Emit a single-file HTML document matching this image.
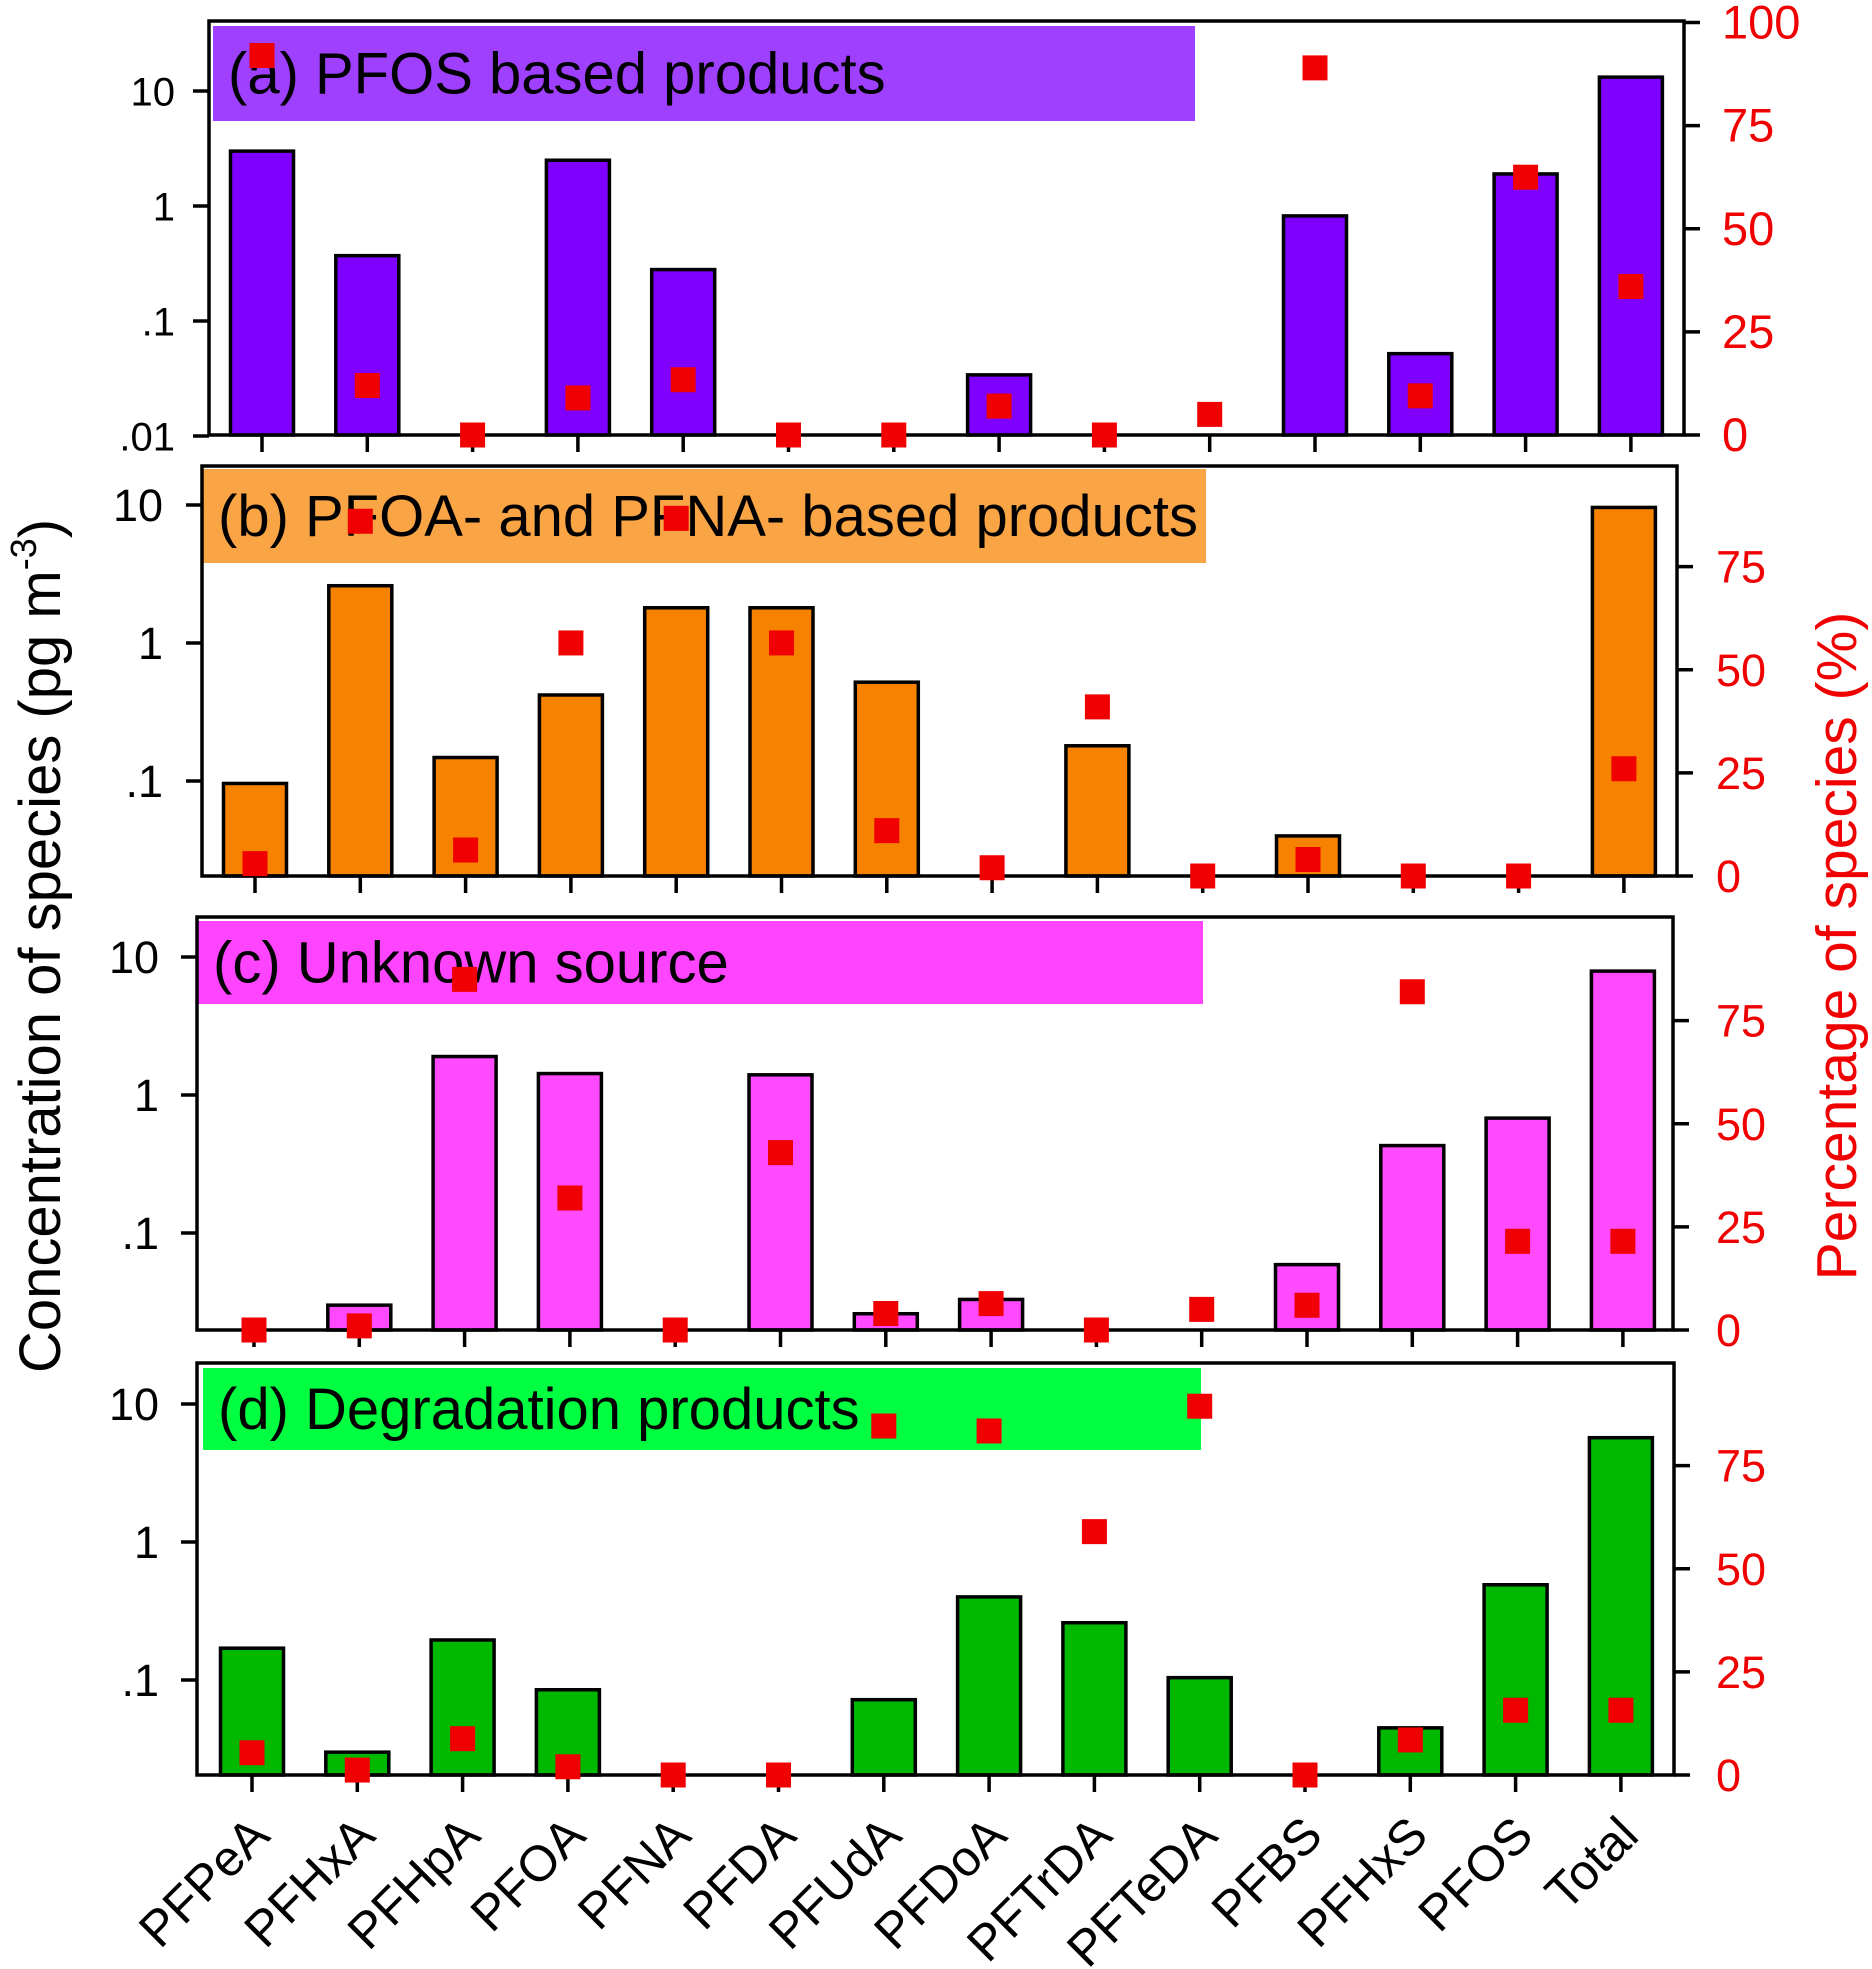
<!DOCTYPE html>
<html><head><meta charset="utf-8"><style>
html,body{margin:0;padding:0;background:#fff;}
svg{display:block;font-family:"Liberation Sans",Arial,sans-serif;}
</style></head><body>
<svg id="chart" width="1872" height="1969" viewBox="0 0 1872 1969" xmlns="http://www.w3.org/2000/svg"></svg>
<script>
const categories = ["PFPeA","PFHxA","PFHpA","PFOA","PFNA","PFDA","PFUdA","PFDoA","PFTrDA","PFTeDA","PFBS","PFHxS","PFOS","Total"];
const concA = [3.0,0.37,null,2.5,0.28,null,null,0.034,null,null,0.82,0.052,1.9,13.2];
const pctA  = [92,12,0,9,13.4,0,0,7,0,5,89,9.5,62.5,36];
const concB = [0.096,2.6,0.148,0.42,1.8,1.8,0.52,null,0.18,null,0.04,null,null,9.6];
const pctB  = [3,86,6.3,56.5,86.7,56.5,11,2,41,0,4,0,0,26];
const concC = [null,0.030,1.9,1.43,null,1.4,0.026,0.033,null,null,0.059,0.43,0.68,7.9];
const pctC  = [0,1,85,32,0,43,4,6.4,0,5,6,82,21.5,21.5];
const concD = [0.17,0.030,0.195,0.085,null,null,0.072,0.40,0.26,0.104,null,0.045,0.49,5.7];
const pctD  = [5.4,1.2,8.8,2,0,0,84.6,83.4,59,89.4,0,8.5,15.7,15.7];
const panelTitles = ["(a) PFOS based products","(b) PFOA- and PFNA- based products","(c) Unknown source","(d) Degradation products"];
const leftTicksA = [".01",".1","1","10"];
const leftTicksBCD = [".1","1","10"];
const rightTicksA = ["0","25","50","75","100"];
const rightTicksBCD = ["0","25","50","75"];

const NS="http://www.w3.org/2000/svg";
const svg=document.getElementById('chart');
function mk(tag,attrs,parent){const e=document.createElementNS(NS,tag);for(const k in attrs)e.setAttribute(k,attrs[k]);(parent||svg).appendChild(e);return e;}

const panels=[
 {conc:concA,pct:pctA,x0:209,x1:1684,y0:21,y1:435,y10:91,dec:115,tick0:262,bar:"#7F00FF",lab:"#A040FF",lb:[213,26,1195,121],lt:leftTicksA,rt:rightTicksA,labX:175,rX:1722,rFs:47,lFs:40,name:"a"},
 {conc:concB,pct:pctB,x0:202,x1:1677,y0:466,y1:876,y10:505,dec:138,tick0:255,bar:"#F78200",lab:"#F9A445",lb:[203,469,1206,563],lt:leftTicksBCD,rt:rightTicksBCD,labX:163,rX:1716,rFs:45,lFs:45,name:"b"},
 {conc:concC,pct:pctC,x0:197,x1:1673,y0:917,y1:1330,y10:957,dec:138,tick0:254,bar:"#FF4AFF",lab:"#FF44FF",lb:[198,921,1203,1004],lt:leftTicksBCD,rt:rightTicksBCD,labX:159,rX:1716,rFs:45,lFs:45,name:"c"},
 {conc:concD,pct:pctD,x0:197,x1:1674,y0:1363,y1:1775,y10:1404,dec:138,tick0:252,bar:"#00B800",lab:"#00FF40",lb:[203,1368,1201,1450],lt:leftTicksBCD,rt:rightTicksBCD,labX:159,rX:1716,rFs:45,lFs:45,name:"d"}
];
const step=105.3, bw=63, pxPct=4.125, ms=25;

panels.forEach((p,pi)=>{
  const g=mk('g',{});
  
  
  const yLog=v=>p.y10-(Math.log10(v)-1)*p.dec;
  const yPct=v=>p.y1-v*pxPct;
  const xC=i=>p.tick0+i*step;
  const lb=mk('rect',{x:p.lb[0],y:p.lb[1],width:p.lb[2]-p.lb[0],height:p.lb[3]-p.lb[1],fill:p.lab},g);
  
  
  const lt=mk('text',{x:p.lb[0]+15,y:(p.lb[1]+p.lb[3])/2+20,'font-size':58,fill:'#000'},g);
  lt.textContent=panelTitles[pi];
  
  
  p.conc.forEach((v,i)=>{
    if(v==null)return;
    const yt=yLog(v);
    const b=mk('rect',{x:xC(i)-bw/2,y:yt,width:bw,height:p.y1-yt,fill:p.bar,stroke:'#000','stroke-width':3.5},g);
    
    
  });
  const fr=mk('rect',{x:p.x0,y:p.y0,width:p.x1-p.x0,height:p.y1-p.y0,fill:'none',stroke:'#000','stroke-width':3.5},g);
  
  
  p.lt.forEach(t=>{
    const y=yLog(parseFloat(t));
    mk('line',{x1:p.x0-16,x2:p.x0,y1:y,y2:y,stroke:'#000','stroke-width':3.5},g);
    const tx=mk('text',{x:p.labX,y:y+p.lFs*0.36,'font-size':p.lFs,'text-anchor':'end',fill:'#000'},g);
    tx.textContent=t;
    
    
  });
  p.rt.forEach(t=>{
    const y=yPct(parseFloat(t));
    mk('line',{x1:p.x1,x2:p.x1+16,y1:y,y2:y,stroke:'#000','stroke-width':3.5},g);
    const tx=mk('text',{x:p.rX,y:y+16,'font-size':p.rFs,fill:'#F00000'},g);
    tx.textContent=t;
    
    
  });
  categories.forEach((c,i)=>{
    mk('line',{x1:xC(i),x2:xC(i),y1:p.y1,y2:p.y1+17,stroke:'#000','stroke-width':3.5},g);
  });
  p.pct.forEach((v,i)=>{
    const m=mk('rect',{x:xC(i)-ms/2,y:yPct(v)-ms/2,width:ms,height:ms,fill:'#F00000'},g);
    
    
  });
});

categories.forEach((c,i)=>{
  const x=252+i*step+20, y=1838;
  const t=mk('text',{x:x,y:y,'font-size':50,'text-anchor':'end',transform:`rotate(-45 ${x} ${y})`,fill:'#000'});
  t.textContent=c;
  
  
});
const yt=mk('text',{x:0,y:0,'font-size':58,'text-anchor':'middle',transform:'translate(60 946) rotate(-90)',fill:'#000'});
yt.innerHTML='Concentration of species (pg m<tspan dy="-24" font-size="36">-3</tspan><tspan dy="24">)</tspan>';


const y2=mk('text',{x:0,y:0,'font-size':57,'text-anchor':'middle',transform:'translate(1856 946) rotate(-90)',fill:'#F00000'});
y2.textContent='Percentage of species (%)';


</script>
</body></html>
